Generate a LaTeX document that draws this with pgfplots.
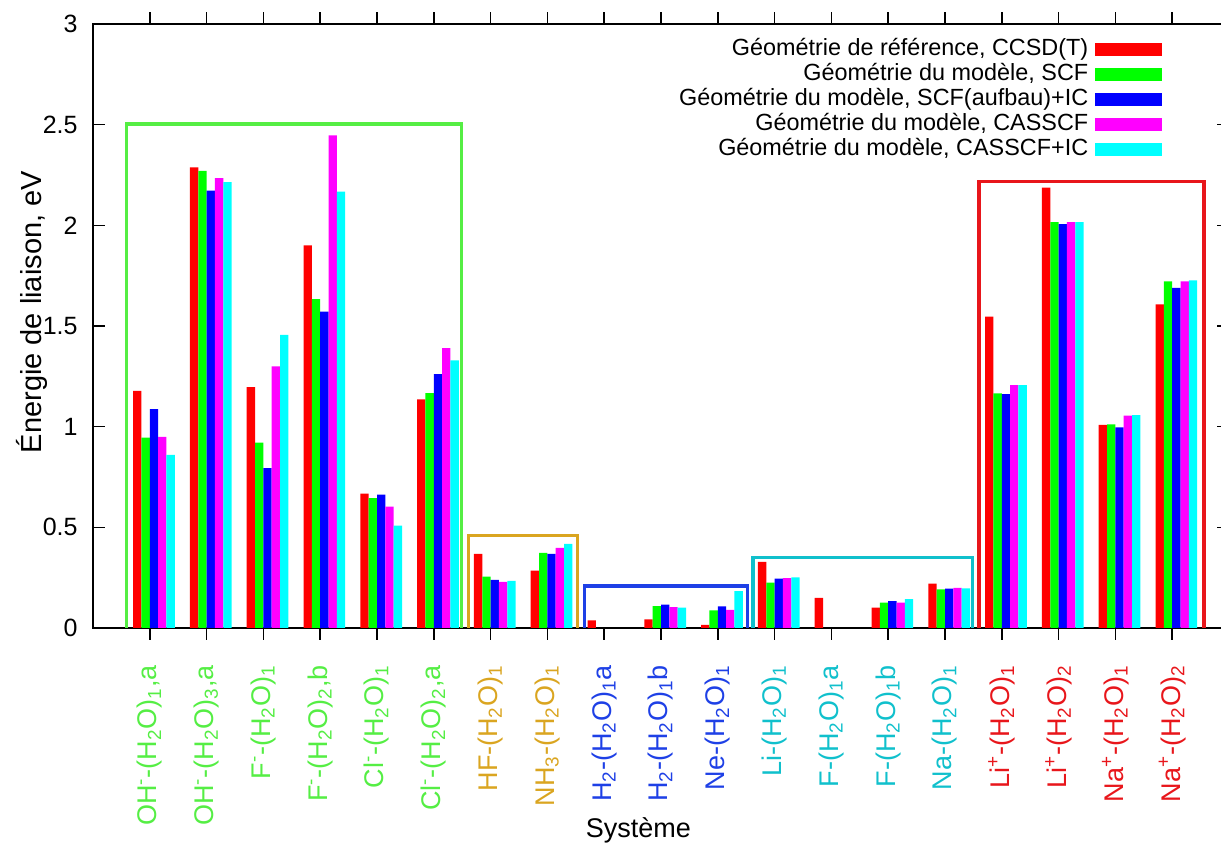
\documentclass[border=0pt]{standalone}
\usepackage{pgfplots}
\pgfplotsset{compat=1.18}
\usepackage{fontspec}
\setmainfont{Liberation Sans}
\definecolor{gG}{HTML}{55EE44}
\definecolor{gO}{HTML}{DAA520}
\definecolor{gB}{HTML}{1E40E6}
\definecolor{gC}{HTML}{10C0CC}
\definecolor{gR}{HTML}{E8161B}
\definecolor{sR}{HTML}{FF0000}
\definecolor{sG}{HTML}{00FF00}
\definecolor{sB}{HTML}{0000FF}
\definecolor{sM}{HTML}{FF00FF}
\definecolor{sC}{HTML}{00FFFF}
\pgfplotsset{
  mybar/.style={ybar, bar width=4.167pt, draw=none,
    legend image code/.code={\fill[##1,draw=none] (0pt,-3.25pt) rectangle (33.5pt,3.25pt);}},
  mybox/.style={sharp plot, mark=none, line width=1.6pt, forget plot},
}
\begin{document}
\begin{tikzpicture}
\begin{axis}[
  at={(0,0)}, anchor=south west,
  scale only axis, width=568pt, height=302pt,
  xmin=-1, xmax=19, ymin=0, ymax=3,
  xtick={0,...,18},
  xticklabels={
    {\color{gG}OH\textsuperscript{-}-(H\textsubscript{2}O)\textsubscript{1},a},
    {\color{gG}OH\textsuperscript{-}-(H\textsubscript{2}O)\textsubscript{3},a},
    {\color{gG}F\textsuperscript{-}-(H\textsubscript{2}O)\textsubscript{1}},
    {\color{gG}F\textsuperscript{-}-(H\textsubscript{2}O)\textsubscript{2},b},
    {\color{gG}Cl\textsuperscript{-}-(H\textsubscript{2}O)\textsubscript{1}},
    {\color{gG}Cl\textsuperscript{-}-(H\textsubscript{2}O)\textsubscript{2},a},
    {\color{gO}HF-(H\textsubscript{2}O)\textsubscript{1}},
    {\color{gO}NH\textsubscript{3}-(H\textsubscript{2}O)\textsubscript{1}},
    {\color{gB}H\textsubscript{2}-(H\textsubscript{2}O)\textsubscript{1}a},
    {\color{gB}H\textsubscript{2}-(H\textsubscript{2}O)\textsubscript{1}b},
    {\color{gB}Ne-(H\textsubscript{2}O)\textsubscript{1}},
    {\color{gC}Li-(H\textsubscript{2}O)\textsubscript{1}},
    {\color{gC}F-(H\textsubscript{2}O)\textsubscript{1}a},
    {\color{gC}F-(H\textsubscript{2}O)\textsubscript{1}b},
    {\color{gC}Na-(H\textsubscript{2}O)\textsubscript{1}},
    {\color{gR}Li\textsuperscript{+}-(H\textsubscript{2}O)\textsubscript{1}},
    {\color{gR}Li\textsuperscript{+}-(H\textsubscript{2}O)\textsubscript{2}},
    {\color{gR}Na\textsuperscript{+}-(H\textsubscript{2}O)\textsubscript{1}},
    {\color{gR}Na\textsuperscript{+}-(H\textsubscript{2}O)\textsubscript{2}}},
  ytick={0,0.5,1,1.5,2,2.5,3},
  /pgf/number format/assume math mode=true,
  axis line style={line width=0.75pt},
  every tick/.style={black, line width=0.75pt},
  xtick align=outside, ytick align=inside,
  major tick length=5.8pt,
  xticklabel style={rotate=90, anchor=east, inner sep=0pt, font=\fontsize{13.5}{15}\selectfont},
  xticklabel shift=12.5pt,
  yticklabel style={inner sep=0pt, xshift=-7.5pt, font=\fontsize{12.5}{14}\selectfont},
  xlabel={Système},
  xlabel style={at={(axis description cs:0.48,0)}, anchor=base, yshift=-104.5pt, font=\fontsize{13.5}{15}\selectfont},
  ylabel={Énergie de liaison, eV},
  ylabel style={at={(axis description cs:-0.0449,0.523)}, anchor=base, font=\fontsize{14.5}{17}\selectfont},
  legend plot pos=right,
  legend cell align=right,
  legend style={at={(axis description cs:0.9416,0.979)}, anchor=north east,
    draw=none, fill=none, inner sep=0pt, row sep=0pt, column sep=3.5pt,
    font=\fontsize{11.7}{13}\selectfont,
    nodes={inner sep=0pt, text height=9pt, text depth=3.5pt}},
]
% group boxes
\addplot[mybox, draw=gG] coordinates {(-0.405,0) (-0.405,2.503) (5.49,2.503) (5.49,0)};
\addplot[mybox, draw=gO] coordinates {(5.61,0) (5.61,0.459) (7.53,0.459) (7.53,0)};
\addplot[mybox, draw=gB] coordinates {(7.65,0) (7.65,0.209) (10.52,0.209) (10.52,0)};
\addplot[mybox, draw=gC] coordinates {(10.62,0) (10.62,0.351) (14.48,0.351) (14.48,0)};
\addplot[mybox, draw=gR] coordinates {(14.6,0) (14.6,2.218) (18.56,2.218) (18.56,0)};
% bars
\addplot[mybar, fill=sR, bar shift=-6.25pt] coordinates {
 (0,1.178) (1,2.288) (2,1.196) (3,1.900) (4,0.668) (5,1.135) (6,0.368) (7,0.285)
 (8,0.038) (9,0.043) (10,0.015) (11,0.329) (12,0.150) (13,0.101) (14,0.220)
 (15,1.547) (16,2.187) (17,1.009) (18,1.607)};
\addlegendentry{Géométrie de référence, CCSD(T)}
\addplot[mybar, fill=sG, bar shift=-2.083pt] coordinates {
 (0,0.946) (1,2.271) (2,0.921) (3,1.634) (4,0.645) (5,1.166) (6,0.255) (7,0.373)
 (9,0.109) (10,0.087) (11,0.225) (13,0.126) (14,0.192)
 (15,1.165) (16,2.016) (17,1.012) (18,1.722)};
\addlegendentry{Géométrie du modèle, SCF}
\addplot[mybar, fill=sB, bar shift=2.083pt] coordinates {
 (0,1.087) (1,2.173) (2,0.794) (3,1.572) (4,0.663) (5,1.261) (6,0.239) (7,0.368)
 (9,0.116) (10,0.107) (11,0.245) (13,0.134) (14,0.195)
 (15,1.162) (16,2.006) (17,0.997) (18,1.689)};
\addlegendentry{Géométrie du modèle, SCF(aufbau)+IC}
\addplot[mybar, fill=sM, bar shift=6.25pt] coordinates {
 (0,0.949) (1,2.235) (2,1.299) (3,2.447) (4,0.603) (5,1.390) (6,0.229) (7,0.398)
 (9,0.104) (10,0.090) (11,0.248) (13,0.126) (14,0.199)
 (15,1.206) (16,2.016) (17,1.055) (18,1.722)};
\addlegendentry{Géométrie du modèle, CASSCF}
\addplot[mybar, fill=sC, bar shift=10.417pt] coordinates {
 (0,0.860) (1,2.215) (2,1.456) (3,2.168) (4,0.509) (5,1.329) (6,0.234) (7,0.418)
 (9,0.101) (10,0.183) (11,0.251) (13,0.144) (14,0.197)
 (15,1.206) (16,2.016) (17,1.057) (18,1.727)};
\addlegendentry{Géométrie du modèle, CASSCF+IC}
\end{axis}
\pgfresetboundingbox
\path[use as bounding box] (-46.5pt,-108.5pt) rectangle (564pt,314pt);
\end{tikzpicture}
\end{document}
